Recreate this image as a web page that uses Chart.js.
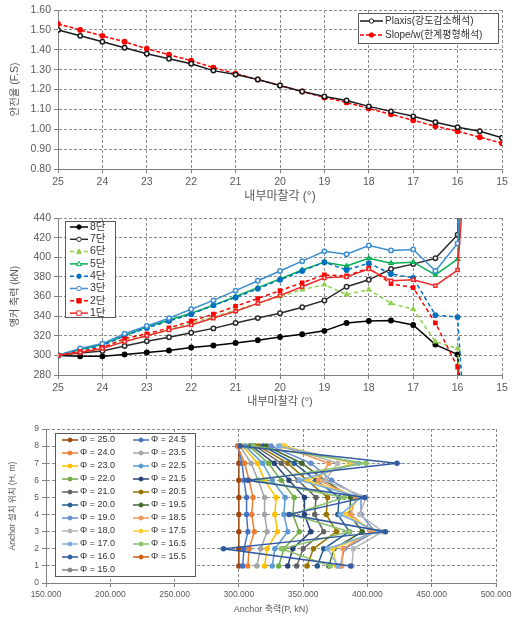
<!DOCTYPE html>
<html>
<head>
<meta charset="utf-8">
<script src="https://cdn.jsdelivr.net/npm/chart.js@4.4.1/dist/chart.umd.min.js"></script>
<style>
  body { margin: 0; background: #fff; width: 531px; height: 621px; position: relative; overflow: hidden; }
  canvas { position: absolute; left: 0; }
</style>
</head>
<body>
<canvas id="fs" width="531" height="205" style="top:0px"></canvas>
<canvas id="force" width="531" height="210" style="top:205px"></canvas>
<canvas id="anchor" width="531" height="206" style="top:415px"></canvas>
<script>
// internal friction angle (deg), 25 -> 15
let phi = [25, 24.5, 24, 23.5, 23, 22.5, 22, 21.5, 21, 20.5, 20, 19.5, 19, 18.5, 18, 17.5, 17, 16.5, 16, 15.5, 15]

// factor of safety
let fs_plaxis = [1.50, 1.47, 1.44, 1.41, 1.38, 1.355, 1.33, 1.295, 1.275, 1.25, 1.22, 1.19, 1.165, 1.145, 1.115, 1.09, 1.065, 1.035, 1.01, 0.99, 0.957]
let fs_slope = [1.53, 1.50, 1.47, 1.44, 1.405, 1.375, 1.345, 1.31, 1.28, 1.25, 1.22, 1.19, 1.16, 1.135, 1.105, 1.075, 1.045, 1.015, 0.99, 0.96, 0.93]

// anchor force (kN) per stage, same phi order (15.5 = failed run, 15.0 = no data)
let stage1 = [300, 303, 307, 314, 320, 326, 331, 338, 345, 353, 361, 370, 379, 380, 388, 376, 377, 371, 387, 700, null]
let stage2 = [300, 304, 308, 317, 322, 328, 335, 342, 350, 358, 366, 374, 382, 381, 389, 373, 369, 333, 288, 0, null]
let stage3 = [300, 307, 312, 322, 330, 338, 347, 356, 366, 376, 386, 396, 406, 403, 412, 407, 408, 386, 414, 850, null]
let stage4 = [300, 306, 310, 320, 328, 335, 342, 351, 359, 368, 377, 386, 395, 387, 394, 383, 379, 341, 339, 0, null]
let stage5 = [300, 306, 311, 320, 329, 336, 343, 351, 360, 369, 378, 387, 395, 391, 399, 394, 395, 382, 398, 800, null]
let stage6 = [300, 304, 308, 315, 320, 326, 333, 339, 346, 353, 360, 367, 372, 362, 367, 353, 347, 314, 307, 0, null]
let stage7 = [300, 302.5, 304.5, 309.5, 314.5, 318.5, 323, 327.5, 333, 338, 343, 349, 356, 370, 377, 388, 393, 399, 423, 900, null]
let stage8 = [300, 299, 299, 301, 303, 305, 308, 310, 312.7, 315.4, 318.8, 321.5, 325, 333, 335, 335.5, 331, 311, 301, 0, null]

let stage_labels = ["8단", "7단", "6단", "5단", "4단", "3단", "2단", "1단"]
let phi_colors = ["#9E480E", "#4472C4", "#ED7D31", "#A5A5A5", "#FFC000", "#5B9BD5", "#70AD47", "#264478", "#636363", "#997300", "#255E91",
    "#43682B", "#698ED0", "#F1975A", "#B7B7B7", "#FFCD33", "#7CAFDD", "#8CC168", "#335AA1", "#D26012", "#848484"]

const FONT = "'Liberation Sans', 'Noto Sans CJK KR', sans-serif"
Chart.defaults.font.family = FONT
Chart.defaults.color = "#595959"
Chart.defaults.animation = false

function drawMarker(ctx, style, x, y, r, color, fill) {
    ctx.beginPath()
    if (style === "rect") ctx.rect(x - r, y - r, 2 * r, 2 * r)
    else if (style === "triangle") {
        ctx.moveTo(x, y - r * 1.2); ctx.lineTo(x + r * 1.1, y + r * 0.8); ctx.lineTo(x - r * 1.1, y + r * 0.8); ctx.closePath()
    }
    else ctx.arc(x, y, r, 0, Math.PI * 2)
    ctx.fillStyle = fill; ctx.fill()
    ctx.strokeStyle = color; ctx.lineWidth = 1; ctx.stroke()
}

// boxed legend inside the plot, like the excel one
const boxLegend = {
    id: "boxLegend",
    afterDatasetsDraw(chart, args, o) {
        const ctx = chart.ctx
        ctx.save()
        ctx.fillStyle = "#fff"
        ctx.fillRect(o.x, o.y, o.w, o.h)
        ctx.strokeStyle = "#595959"; ctx.lineWidth = 1
        ctx.strokeRect(o.x + 0.5, o.y + 0.5, o.w, o.h)
        ctx.font = o.font
        ctx.textBaseline = "middle"
        chart.data.datasets.forEach((ds, i) => {
            const lx = o.x + o.padX + (i % o.cols) * o.colW
            const ly = o.y + o.padY + Math.floor(i / o.cols) * o.rowH
            ctx.setLineDash(ds.borderDash || [])
            ctx.strokeStyle = ds.borderColor; ctx.lineWidth = ds.borderWidth
            ctx.beginPath(); ctx.moveTo(lx, ly); ctx.lineTo(lx + o.lineW, ly); ctx.stroke()
            ctx.setLineDash([])
            drawMarker(ctx, ds.pointStyle, lx + o.lineW / 2, ly, ds.pointRadius, ds.borderColor, ds.pointBackgroundColor)
            ctx.fillStyle = "#333"
            ctx.fillText(ds.label, lx + o.lineW + 2, ly)
        })
        ctx.restore()
    }
}

function axisX(min, max, step, fmt, size, title, titleSize, height, titlePad) {
    return {
        type: "linear", min: min, max: max, reverse: min < 100,
        afterFit: (s) => { s.height = height },
        ticks: { stepSize: step, font: { size: size }, padding: 3, callback: fmt },
        grid: { color: "#8c8c8c", tickLength: 4, tickColor: "#808080" },
        border: { color: "#808080", dash: [3, 2] },
        title: { display: true, text: title, font: { size: titleSize }, padding: { top: 0, bottom: titlePad } }
    }
}

function axisY(min, max, step, fmt, size, title, titleSize, width, titlePad) {
    return {
        min: min, max: max,
        afterFit: (s) => { s.width = width },
        ticks: { stepSize: step, font: { size: size }, padding: 3, callback: fmt },
        grid: { color: "#8c8c8c", tickLength: 4, tickColor: "#808080" },
        border: { color: "#808080", dash: [3, 2] },
        title: { display: true, text: title, font: { size: titleSize }, padding: { top: titlePad, bottom: 0 } }
    }
}

// chart 1 : factor of safety
new Chart(document.getElementById("fs"), {
    type: "line",
    data: {
        datasets: [{
            label: "Plaxis(강도감소해석)",
            data: phi.map((p, i) => ({ x: p, y: fs_plaxis[i] })),
            borderColor: "#1a1a1a", borderWidth: 1.5,
            pointStyle: "circle", pointRadius: 2.2, pointBackgroundColor: "#fff", pointBorderColor: "#1a1a1a"
        }, {
            label: "Slope/w(한계평형해석)",
            data: phi.map((p, i) => ({ x: p, y: fs_slope[i] })),
            borderColor: "#FF0000", borderWidth: 1.5, borderDash: [4, 2],
            pointStyle: "circle", pointRadius: 2.2, pointBackgroundColor: "#FF0000", pointBorderColor: "#FF0000"
        }]
    },
    options: {
        responsive: false,
        layout: { padding: { top: 10, right: 29, left: 0, bottom: 0 } },
        scales: {
            x: axisX(15, 25, 1, v => v, 10.5, "내부마찰각 (°)", 12, 36, 1),
            y: axisY(0.8, 1.6, 0.1, v => v.toFixed(2), 10.5, "안전율 (F.S)", 10.5, 58, 9)
        },
        plugins: {
            legend: { display: false }, tooltip: { enabled: false },
            boxLegend: { x: 358, y: 13, w: 140, h: 30, cols: 1, rowH: 14, colW: 0, padX: 2, padY: 8, lineW: 23, font: "10px " + FONT }
        }
    },
    plugins: [boxLegend]
});

// chart 2 : anchor force by stage
let stages_top = [stage8, stage7, stage6, stage5, stage4, stage3, stage2, stage1]
let stage_style = [
    { c: "#000000", dash: [], ps: "circle", fill: "#000000" },
    { c: "#2b2b2b", dash: [], ps: "circle", fill: "#ffffff" },
    { c: "#92D050", dash: [4, 3], ps: "triangle", fill: "#92D050" },
    { c: "#00B050", dash: [], ps: "triangle", fill: "#ffffff" },
    { c: "#0070C0", dash: [4, 3], ps: "circle", fill: "#0070C0" },
    { c: "#3B8ED0", dash: [], ps: "circle", fill: "#ffffff" },
    { c: "#FF0000", dash: [4, 3], ps: "rect", fill: "#FF0000" },
    { c: "#EE2A2A", dash: [], ps: "rect", fill: "#ffffff" }
]

new Chart(document.getElementById("force"), {
    type: "line",
    data: {
        datasets: stages_top.map((s, k) => ({
            label: stage_labels[k],
            data: phi.map((p, i) => ({ x: p, y: s[i] })),
            order: 10 - k,
            borderColor: stage_style[k].c, borderWidth: 1.5, borderDash: stage_style[k].dash,
            pointStyle: stage_style[k].ps, pointRadius: 2.2,
            pointBackgroundColor: stage_style[k].fill, pointBorderColor: stage_style[k].c
        }))
    },
    options: {
        responsive: false,
        layout: { padding: { top: 13, right: 29, left: 0, bottom: 0 } },
        scales: {
            x: axisX(15, 25, 1, v => v, 10.5, "내부마찰각 (°)", 11, 40, 6),
            y: axisY(280, 440, 20, v => v, 10.5, "앵커 축력 (kN)", 10, 58, 9)
        },
        plugins: {
            legend: { display: false }, tooltip: { enabled: false },
            boxLegend: { x: 65, y: 16, w: 50, h: 96, cols: 1, rowH: 12.3, colW: 0, padX: 5, padY: 6, lineW: 18, font: "10.5px " + FONT }
        }
    },
    plugins: [boxLegend]
});

// chart 3 : anchor force vs install height, one line per phi
let stages_by_height = [stage1, stage2, stage3, stage4, stage5, stage6, stage7, stage8]

new Chart(document.getElementById("anchor"), {
    type: "line",
    data: {
        datasets: phi.map((p, j) => ({
            label: "Φ = " + p.toFixed(1),
            data: stages_by_height.map((s, k) => ({ x: (s[j] != null && s[j] >= 150 && s[j] <= 500) ? s[j] : null, y: k + 1 })),
            order: 30 - j,
            borderColor: phi_colors[j], borderWidth: 1.5,
            pointStyle: "circle", pointRadius: 2,
            pointBackgroundColor: phi_colors[j], pointBorderColor: phi_colors[j]
        }))
    },
    options: {
        responsive: false,
        layout: { padding: { top: 14, right: 35, left: 0, bottom: 0 } },
        scales: {
            x: Object.assign(axisX(150, 500, 50, v => v.toFixed(3), 8.5, "Anchor 축력(P, kN)", 9, 38, 6), { reverse: false }),
            y: axisY(0, 9, 1, v => v, 8.5, "Anchor 설치 위치 (H, m)", 8.5, 46, 8)
        },
        plugins: {
            legend: { display: false }, tooltip: { enabled: false },
            boxLegend: { x: 55, y: 18, w: 140, h: 143, cols: 2, rowH: 13, colW: 71, padX: 7, padY: 7, lineW: 16, font: "9px " + FONT }
        }
    },
    plugins: [boxLegend]
});
</script>
</body>
</html>
